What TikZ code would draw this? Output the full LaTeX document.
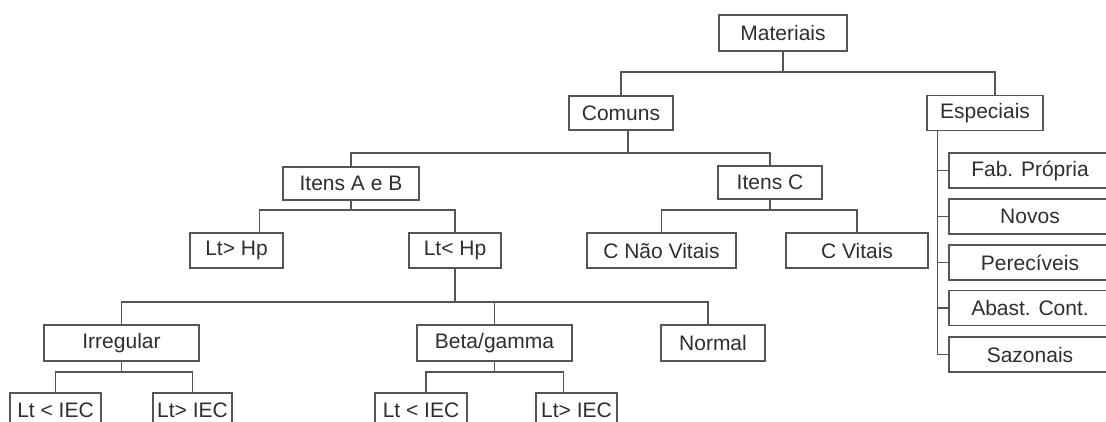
\documentclass[tikz,border=0pt]{standalone}
\usepackage{fontspec}
\setmainfont{Liberation Sans}
\definecolor{boxline}{HTML}{555555}
\definecolor{boxtext}{HTML}{2E2E2E}

\begin{document}
\begin{tikzpicture}[
    x=1pt,y=1pt,
    item/.style={draw=boxline,line width=1.4pt,text=boxtext,inner sep=0pt,
                 minimum height=35pt,font={\fontsize{21}{24}\selectfont}},
    link/.style={draw=boxline,line width=1.4pt}]

    \useasboundingbox (0,0) rectangle (1106,421);
    \clip (0,0) rectangle (1106,421);

    \node[item,minimum width=128pt,minimum height=36pt] (Mat) at (783,388) {Materiais};
    \node[item,minimum width=104pt,minimum height=34pt] (Com) at (621,308) {Comuns};
    \node[item,minimum width=116pt] (Esp) at (985,308) {Especiais};

    \node[item,minimum width=136pt,minimum height=33pt] (ItAB) at (351,237.5) {Itens A e B};
    \node[item,minimum width=104pt,minimum height=33pt] (ItC) at (770,238.5) {Itens C};

    \node[item,minimum width=93pt] (LtGtHp) at (236.5,170.5) {Lt> Hp};
    \node[item,minimum width=92pt] (LtLtHp) at (455,170.5) {Lt< Hp};
    \node[item,minimum width=149pt] (CNaoVit) at (661.5,170.5) {C Não Vitais};
    \node[item,minimum width=142pt] (CVit) at (857,170.5) {C Vitais};

    \node[item,minimum width=155pt,minimum height=36pt] (Irr) at (121.5,78) {Irregular};
    \node[item,minimum width=155pt,minimum height=36pt] (Beta) at (494.5,78) {Beta/gamma};
    \node[item,minimum width=104pt,minimum height=36pt] (Norm) at (713,78) {Normal};

    \node[item,minimum width=91pt] (IrrLt) at (55.5,10.5) {Lt < IEC};
    \node[item,minimum width=79pt] (IrrGt) at (192.5,10.5) {Lt> IEC};
    \node[item,minimum width=92pt] (BetaLt) at (421,10.5) {Lt < IEC};
    \node[item,minimum width=81pt] (BetaGt) at (576.5,10.5) {Lt> IEC};

    % especiais
    \node[item,minimum width=162pt] (Fab) at (1030,250.5) {Fab. Própria};
    \node[item,minimum width=162pt] (Nov) at (1030,204.5) {Novos};
    \node[item,minimum width=162pt] (Per) at (1030,158.5) {Perecíveis};
    \node[item,minimum width=162pt] (Aba) at (1030,113) {Abast. Cont.};
    \node[item,minimum width=162pt] (Saz) at (1030,66.5) {Sazonais};

    \coordinate (jMat)  at (783,349);
    \coordinate (jCom)  at (628,268);
    \coordinate (jItAB) at (351,211);
    \coordinate (jItC)  at (770,211);
    \coordinate (jLtLt) at (455,119);
    \coordinate (jIrr)  at (121.5,49);
    \coordinate (jBeta) at (494.5,49);
    \coordinate (jEsp)  at ([xshift=11pt]Esp.south west);

    \draw[link] (Mat.south) -- (jMat);
    \draw[link] (Com.north) |- (jMat) -| ([xshift=10pt]Esp.north);

    \draw[link] ([xshift=7pt]Com.south) -- (jCom);
    \draw[link] (ItAB.north) |- (jCom) -| (ItC.north);

    \draw[link] (ItAB.south) -- (jItAB);
    \draw[link] ([xshift=23pt]LtGtHp.north) |- (jItAB) -| (LtLtHp.north);

    \draw[link] (ItC.south) -- (jItC);
    \draw[link] (CNaoVit.north) |- (jItC) -| (CVit.north);

    \draw[link] (LtLtHp.south) -- (jLtLt);
    \draw[link] (Irr.north) |- (jLtLt) -| ([xshift=-5pt]Norm.north);
    \draw[link] (Beta.north) -- (Beta.north |- jLtLt);

    \draw[link] (Irr.south) -- (jIrr);
    \draw[link] (IrrLt.north) |- (jIrr) -| (IrrGt.north);

    \draw[link] (Beta.south) -- (jBeta);
    \draw[link] ([xshift=5pt]BetaLt.north) |- (jBeta) -| ([xshift=-13pt]BetaGt.north);

    \draw[link] (jEsp) |- (Saz.west);
    \foreach \n in {Fab,Nov,Per,Aba}
        \draw[link] (jEsp |- \n.west) -- (\n.west);

\end{tikzpicture}
\end{document}
